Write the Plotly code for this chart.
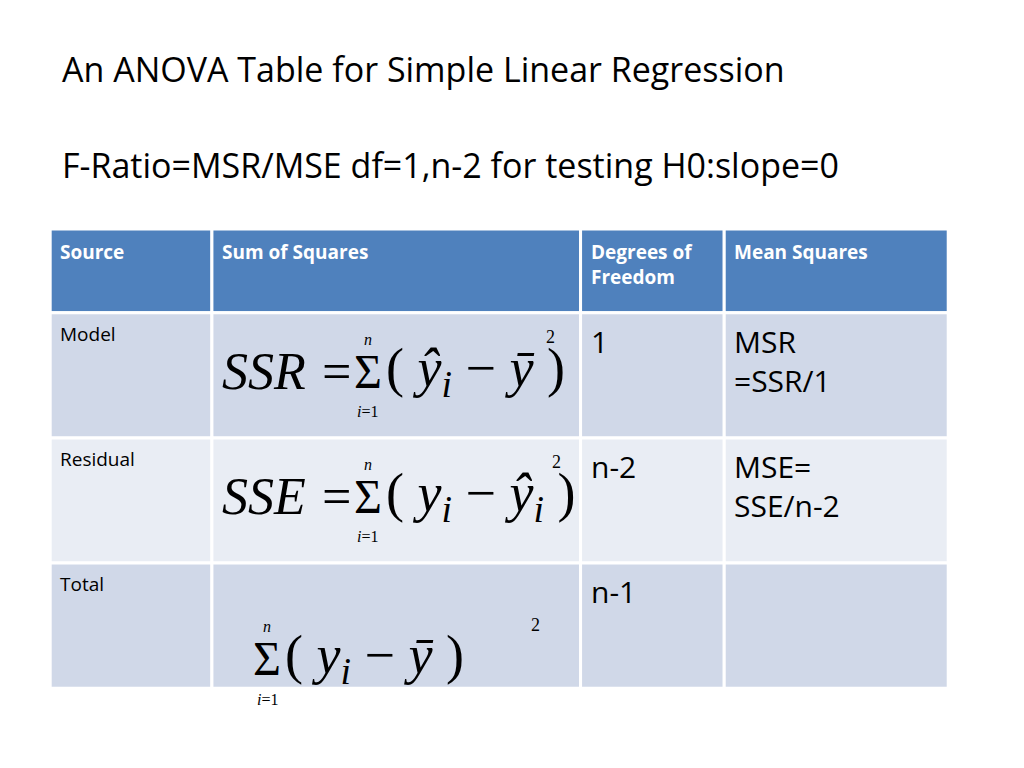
import plotly.graph_objects as go

title = "An ANOVA Table for Simple Linear Regression"
subtitle = "F-Ratio=MSR/MSE df=1,n-2 for testing H0:slope=0"
headers = ["Source", "Sum of Squares", "Degrees of<br>Freedom", "Mean Squares"]
sources = ["Model", "Residual", "Total"]
lhs = ["SSR =", "SSE =", ""]
terms = ["( <i>ŷ</i><sub><i>i</i></sub> − <i>ȳ</i> )", "( <i>y</i><sub><i>i</i></sub> − <i>ŷ</i><sub><i>i</i></sub> )", "( <i>y</i><sub><i>i</i></sub> − <i>ȳ</i> )"]
dfs = ["1", "n-2", "n-1"]
ms = ["MSR<br>=SSR/1", "MSE=<br>SSE/n-2", ""]

cols = [52, 213, 580, 723, 946]
rows = [231, 314, 438, 562, 686]
row_fill = ["#D0D8E8", "#E9EDF4", "#D0D8E8"]
body = "Open Sans"

fig = go.Figure()
shapes, ann = [], []
def rect(x0, x1, y0, y1, c):
    shapes.append(dict(type="rect", x0=x0, x1=x1, y0=y0, y1=y1, fillcolor=c,
                       line=dict(color="white", width=3), layer="below"))
for j, h in enumerate(headers):
    rect(cols[j], cols[j+1], rows[0], rows[1], "#4F81BD")
    ann.append(dict(x=cols[j]+8, y=rows[0]+8, text="<b>"+h+"</b>", xanchor="left", yanchor="top",
                    align="left", font=dict(color="white", size=19, family=body)))
for i, s in enumerate(sources):
    y0, y1 = rows[i+1], rows[i+2]
    for j in range(4):
        rect(cols[j], cols[j+1], y0, y1, row_fill[i])
    ann.append(dict(x=cols[0]+8, y=y0+6, text=s, xanchor="left", yanchor="top",
                    font=dict(size=19, family=body, color="black")))
    ann.append(dict(x=cols[2]+8, y=y0+6, text=dfs[i], xanchor="left", yanchor="top",
                    font=dict(size=30, family=body, color="black")))
    ann.append(dict(x=cols[3]+8, y=y0+6, text=ms[i], xanchor="left", yanchor="top", align="left",
                    font=dict(size=30, family=body, color="black")))
    base = y0 + 58 if i < 2 else y0 + 95
    sx = 368 if i < 2 else 268
    serif = "Liberation Serif"
    if lhs[i]:
        ann.append(dict(x=sx-12, y=base, text="<i>"+lhs[i]+"</i>", xanchor="right", yanchor="middle",
                        font=dict(size=52, family=serif, color="black")))
    ann.append(dict(x=sx, y=base, text="Σ", xanchor="center", yanchor="middle",
                    font=dict(size=48, family=serif, color="black")))
    ann.append(dict(x=sx, y=base-32, text="<i>n</i>", xanchor="center", yanchor="middle",
                    font=dict(size=16, family=serif, color="black")))
    ann.append(dict(x=sx, y=base+40, text="<i>i</i>=1", xanchor="center", yanchor="middle",
                    font=dict(size=16, family=serif, color="black")))
    ann.append(dict(x=sx+16, y=base, text=terms[i], xanchor="left", yanchor="middle",
                    font=dict(size=54, family=serif, color="black")))
    ann.append(dict(x=[550, 556, 535][i], y=base-34, text="2", xanchor="center", yanchor="middle",
                    font=dict(size=18, family=serif, color="black")))

ann.append(dict(x=62, y=72, text=title, xanchor="left", yanchor="middle",
                font=dict(size=34, family=body, color="black")))
ann.append(dict(x=62, y=168, text=subtitle, xanchor="left", yanchor="middle",
                font=dict(size=34, family=body, color="black")))
for a in ann:
    a.update(showarrow=False, xref="x", yref="y")

fig.update_layout(width=1024, height=768, margin=dict(l=0, r=0, t=0, b=0),
                  paper_bgcolor="white", plot_bgcolor="white", shapes=shapes, annotations=ann,
                  xaxis=dict(range=[10, 1029.4], visible=False, fixedrange=True),
                  yaxis=dict(range=[773, 12], visible=False, fixedrange=True), showlegend=False)
fig.write_html("out.html")
